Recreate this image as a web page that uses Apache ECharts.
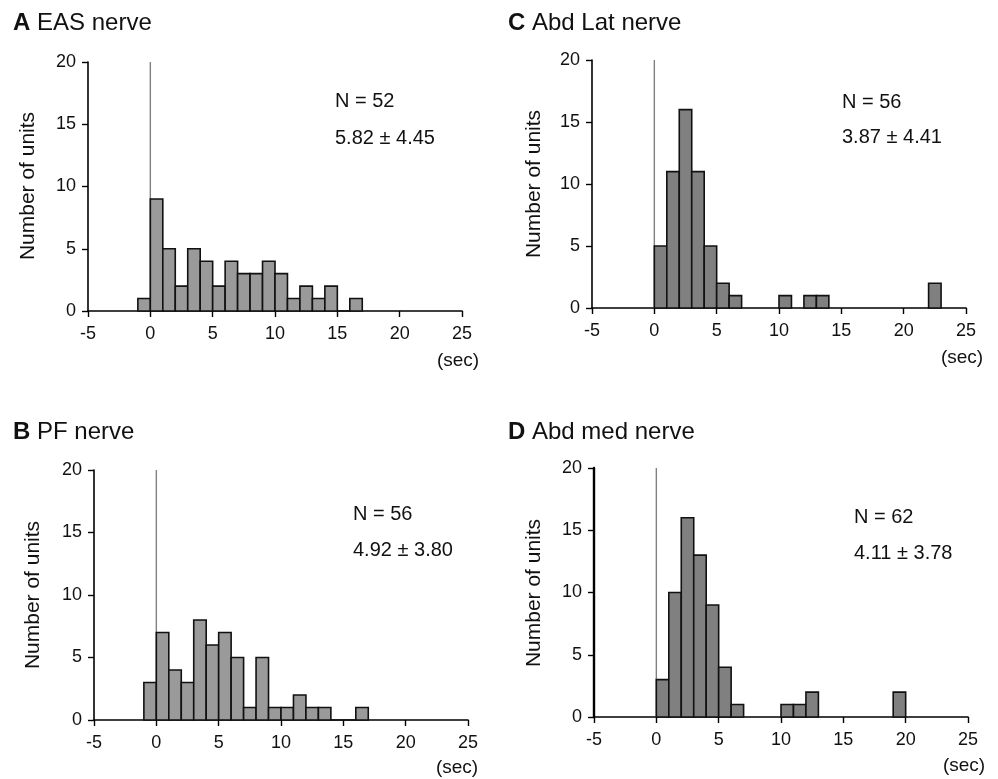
<!DOCTYPE html>
<html>
<head>
<meta charset="utf-8">
<script src="https://cdn.jsdelivr.net/npm/echarts@6/dist/echarts.min.js"></script>
<style>
html,body{margin:0;padding:0;background:#fff;}
#chart{width:998px;height:779px;}
</style>
</head>
<body>
<div id="chart"></div>
<script>
// ---- data (bin left edges in sec, bin width 1 s; counts = number of units) ----
const binLeftA = [-1, 0, 1, 2, 3, 4, 5, 6, 7, 8, 9, 10, 11, 12, 13, 14, 15, 16];
const countsA  = [ 1, 9, 5, 2, 5, 4, 2, 4, 3, 3, 4, 3, 1, 2, 1, 2, 0, 1];

const binLeftB = [-1, 0, 1, 2, 3, 4, 5, 6, 7, 8, 9, 10, 11, 12, 13, 14, 15, 16];
const countsB  = [ 3, 7, 4, 3, 8, 6, 7, 5, 1, 5, 1, 1, 2, 1, 1, 0, 0, 1];

const binLeftC = [0, 1, 2, 3, 4, 5, 6, 10, 12, 13, 22];
const countsC  = [5, 11, 16, 11, 5, 2, 1, 1, 1, 1, 2];

const binLeftD = [0, 1, 2, 3, 4, 5, 6, 10, 11, 12, 19];
const countsD  = [3, 10, 16, 13, 9, 4, 1, 1, 1, 2, 2];

const xTicks = [-5, 0, 5, 10, 15, 20, 25];
const yTicks = [0, 5, 10, 15, 20];

const panelLetters = ['A', 'B', 'C', 'D'];
const panelTitles = ['EAS nerve', 'PF nerve', 'Abd Lat nerve', 'Abd med nerve'];
const panelN = ['N = 52', 'N = 56', 'N = 56', 'N = 62'];
const panelStats = ['5.82 \u00b1 4.45', '4.92 \u00b1 3.80', '3.87 \u00b1 4.41', '4.11 \u00b1 3.78'];
const yName = 'Number of units';
const xUnit = '(sec)';

// ---- layout ----
const FONT = '"Liberation Sans", Arial, Helvetica, sans-serif';
const grids = [
  {left: 88, top: 62, width: 374, height: 249},   // A
  {left: 94, top: 470, width: 374, height: 250},  // B
  {left: 592, top: 60, width: 374, height: 248},  // C
  {left: 594, top: 468, width: 374, height: 249}  // D
];
const fills = ['#9a9a9a', '#9a9a9a', '#808080', '#808080'];
const allBins = [binLeftA, binLeftB, binLeftC, binLeftD];
const allCounts = [countsA, countsB, countsC, countsD];

const titlePos = [[13, 24], [13, 433], [508, 24], [508, 433]];
const nPos = [[335, 101, 138], [353, 514, 550], [842, 102, 137], [854, 517, 553]];
const yNamePos = [[28, 186], [33, 595], [534, 184], [534, 593]];
const secPos = [[458, 361], [457, 768], [962, 358], [964, 766]];

const xAxes = [], yAxes = [], series = [], graphic = [];

grids.forEach((g, i) => {
  xAxes.push({
    gridIndex: i, type: 'value', min: -5, max: 25, interval: 5,
    axisLine: {onZero: true, lineStyle: {color: '#000', width: 1.6}},
    axisTick: {show: true, length: 6, inside: false, lineStyle: {color: '#000', width: 1.4}},
    axisLabel: {color: '#111', fontSize: 18, fontFamily: FONT, margin: 14},
    splitLine: {show: false}
  });
  yAxes.push({
    gridIndex: i, type: 'value', min: 0, max: 20, interval: 5,
    axisLine: {show: true, onZero: false, lineStyle: {color: '#000', width: i === 3 ? 2.4 : 1.6}},
    axisTick: {show: true, length: 6, lineStyle: {color: '#000', width: 1.4}},
    axisLabel: {color: '#111', fontSize: 18, fontFamily: FONT, margin: 12},
    splitLine: {show: false}
  });
  // zero reference line
  series.push({
    type: 'line', xAxisIndex: i, yAxisIndex: i, data: [[0, 0], [0, 20]],
    symbol: 'none', silent: true, z: 1,
    lineStyle: {color: '#808080', width: 1.4}
  });
  const fill = fills[i];
  series.push({
    type: 'custom', xAxisIndex: i, yAxisIndex: i, z: 3,
    data: allBins[i].map((b, k) => [b, allCounts[i][k]]),
    encode: {x: 0, y: 1},
    renderItem: function (params, api) {
      const x0 = api.value(0), v = api.value(1);
      const p0 = api.coord([x0, v]);
      const p1 = api.coord([x0 + 1, 0]);
      return {
        type: 'rect',
        shape: {x: p0[0], y: p0[1], width: p1[0] - p0[0], height: p1[1] - p0[1]},
        style: {fill: fill, stroke: '#111', lineWidth: 1.6}
      };
    }
  });
  graphic.push({
    type: 'text', left: titlePos[i][0], top: titlePos[i][1] - 13,
    style: {
      text: '{b|' + panelLetters[i] + '} ' + panelTitles[i],
      font: '24px ' + FONT, fill: '#111',
      rich: {b: {fontWeight: 'bold', fontSize: 24, fontFamily: FONT, fill: '#111'}}
    }
  });
  graphic.push({
    type: 'text', x: nPos[i][0], y: nPos[i][1],
    style: {text: panelN[i], font: '20px ' + FONT, fill: '#111', verticalAlign: 'middle', align: 'left'}
  });
  graphic.push({
    type: 'text', x: nPos[i][0], y: nPos[i][2],
    style: {text: panelStats[i], font: '20px ' + FONT, fill: '#111', verticalAlign: 'middle', align: 'left'}
  });
  graphic.push({
    type: 'text', x: yNamePos[i][0], y: yNamePos[i][1], rotation: Math.PI / 2,
    style: {text: yName, font: '21px ' + FONT, fill: '#111', verticalAlign: 'middle', align: 'center'}
  });
  graphic.push({
    type: 'text', x: secPos[i][0], y: secPos[i][1],
    style: {text: xUnit, font: '19px ' + FONT, fill: '#111', verticalAlign: 'middle', align: 'center'}
  });
});

const chart = echarts.init(document.getElementById('chart'), null, {renderer: 'canvas'});
chart.setOption({
  backgroundColor: '#fff',
  animation: false,
  grid: grids,
  xAxis: xAxes,
  yAxis: yAxes,
  series: series,
  graphic: graphic
});
</script>
</body>
</html>
